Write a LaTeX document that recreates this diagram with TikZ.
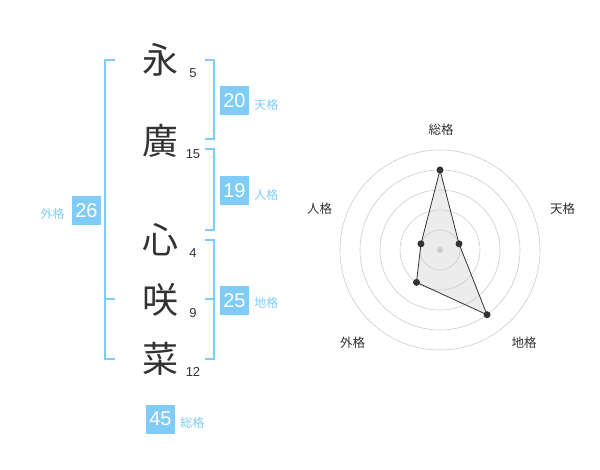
\documentclass[tikz,border=0pt]{standalone}
\usepackage{fontspec}
\setmainfont{Liberation Sans}
\newfontfamily\cjk{Noto Sans CJK JP}
\usetikzlibrary{calc}

\definecolor{kakublue}{RGB}{128,204,248}
\definecolor{inkgray}{RGB}{51,51,51}
\definecolor{ringgray}{RGB}{204,204,204}
\definecolor{areagray}{RGB}{236,236,236}

\tikzset{
	kanji/.style={inner sep=0pt, text=inkgray, font=\cjk\fontsize{36}{36}\selectfont},
	strokes/.style={inner sep=0pt, text=inkgray, font=\fontsize{13}{13}\selectfont},
	badge/.style={fill=kakublue, text=white, minimum size=29pt, inner sep=0pt, font=\fontsize{20}{20}\selectfont},
	badgetag/.style={inner sep=0pt, text=kakublue, font=\cjk\fontsize{12}{12}\selectfont},
	bracket/.style={draw=kakublue, line width=2pt},
	axislabel/.style={inner sep=0pt, text=inkgray, font=\cjk\fontsize{12.5}{12.5}\selectfont},
}

\begin{document}
\begin{tikzpicture}[x=1pt, y=-1pt]

% canvas %{{{2

	\useasboundingbox (0,0) rectangle (600,470);

% name characters and stroke counts %{{{2

	\foreach \ch/\st/\y [count=\i] in {永/5/60, 廣/15/141, 心/4/240, 咲/9/300, 菜/12/359} {
		\node[kanji] (c\i) at (160,\y) {\ch};
		\node[strokes] (n\i) at (193,\y+13) {\st};
	}

% brackets %{{{2

	\coordinate (L1) at (105,60);
	\coordinate (L2) at (105,299);
	\coordinate (L3) at (105,359);

	\draw[bracket] ($(L1)+(10,0)$) -- (L1) -- (L3) -- ($(L3)+(10,0)$);
	\draw[bracket] (L2) -- ++(10,0);

	\coordinate (T1) at (214,60);
	\coordinate (T2) at (214,139);
	\coordinate (J1) at (214,149);
	\coordinate (J2) at (214,230);
	\coordinate (D1) at (214,240);
	\coordinate (D2) at (214,299);
	\coordinate (D3) at (214,359);

	\draw[bracket] ($(T1)+(-9,0)$) -- (T1) -- (T2) -- ($(T2)+(-9,0)$);
	\draw[bracket] ($(J1)+(-9,0)$) -- (J1) -- (J2) -- ($(J2)+(-9,0)$);
	\draw[bracket] ($(D1)+(-9,0)$) -- (D1) -- (D3) -- ($(D3)+(-9,0)$);
	\draw[bracket] (D2) -- ++(-9,0);

% badges %{{{2

	\node[badge] (ten) at (234.5,100.5) {20};
	\node[badge] (jin) at (234.5,190.5) {19};
	\node[badge] (chi) at (234.5,300.5) {25};
	\node[badge] (gai) at (86.5,210.5) {26};
	\node[badge] (sou) at (160.5,419) {45};

	\node[badgetag, anchor=west] (tentag) at ($(ten.east)+(5,4)$) {天格};
	\node[badgetag, anchor=west] (jintag) at ($(jin.east)+(5,4)$) {人格};
	\node[badgetag, anchor=west] (chitag) at ($(chi.east)+(5,2)$) {地格};
	\node[badgetag, anchor=east] (gaitag) at ($(gai.west)+(-7,3.5)$) {外格};
	\node[badgetag, anchor=west] (soutag) at ($(sou.east)+(5,4)$) {総格};

% radar chart %{{{2

	\begin{scope}[shift={(440,250)}, yscale=-1]

		\coordinate (O) at (0,0);

		\foreach \ang/\val [count=\i] in {90/80, 18/20, -54/80, -126/40, 162/20} {
			\coordinate (V\i) at (\ang:\val);
		}

		\foreach \lab/\pos [count=\i] in
			{総格/{(1,120)}, 天格/{(122.5,41.7)}, 地格/{(84,-92.7)}, 外格/{(-87.5,-92.7)}, 人格/{(-120.5,41.7)}} {
			\node[axislabel] (A\i) at \pos {\lab};
		}

		\fill[areagray] (V1) \foreach \i in {2,...,5} { -- (V\i) } -- cycle;

		\foreach \r in {20,40,...,100} { \draw[ringgray, line width=0.6pt] (O) circle (\r); }

		\fill[ringgray] (O) circle (3);

		\draw[inkgray, line width=0.8pt] (V1) \foreach \i in {2,...,5} { -- (V\i) } -- cycle;

		\foreach \i in {1,...,5} { \fill[inkgray] (V\i) circle (3.5); }

	\end{scope}

\end{tikzpicture}
\end{document}
